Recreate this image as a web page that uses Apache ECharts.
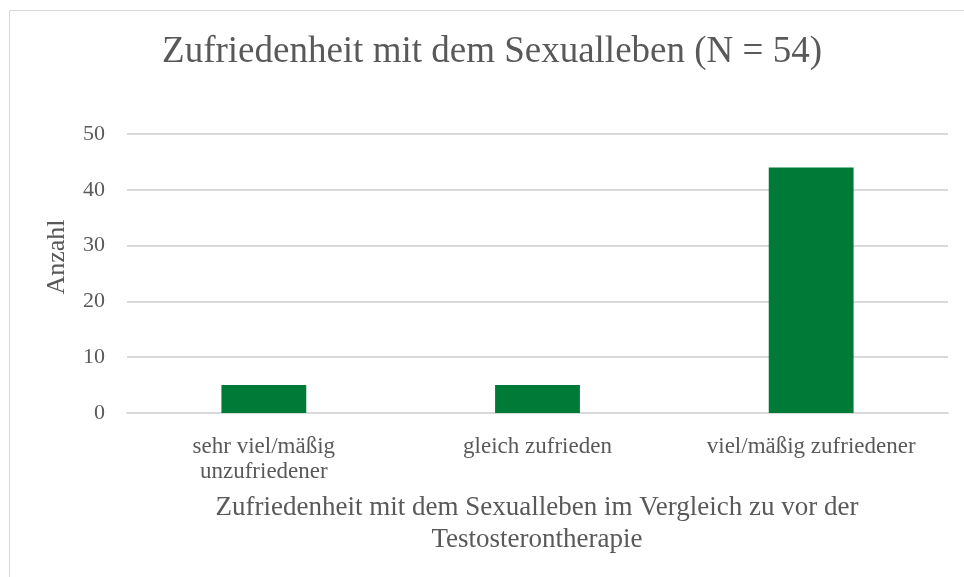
<!DOCTYPE html>
<html>
<head>
<meta charset="utf-8">
<script src="https://cdn.jsdelivr.net/npm/echarts@6/dist/echarts.min.js"></script>
<style>
  html, body { margin: 0; padding: 0; background: #fff; }
  #chart { width: 964px; height: 577px; }
</style>
</head>
<body>
<div id="chart"></div>
<script>
const categories = ['sehr viel/mäßig\nunzufriedener', 'gleich zufrieden', 'viel/mäßig zufriedener'];
const counts = [5, 5, 44];
const yTicks = { min: 0, max: 50, interval: 10 };

const font = '"Liberation Serif", "Times New Roman", serif';
const textColor = '#595959';

const chart = echarts.init(document.getElementById('chart'));

chart.setOption({
  animation: false,
  graphic: [
    // Rahmen um das Diagramm
    {
      type: 'rect',
      shape: { x: 9.5, y: 10.5, width: 1000, height: 700 },
      style: { fill: 'none', stroke: '#d9d9d9', lineWidth: 1 },
      silent: true
    },
    // Diagrammtitel
    {
      type: 'text',
      x: 492,
      y: 52,
      style: {
        text: 'Zufriedenheit mit dem Sexualleben (N = 54)',
        font: '37px ' + font,
        fill: textColor,
        align: 'center',
        verticalAlign: 'middle'
      }
    },
    // y-Achsentitel
    {
      type: 'text',
      x: 57,
      y: 257,
      rotation: Math.PI / 2,
      style: {
        text: 'Anzahl',
        font: '26px ' + font,
        fill: textColor,
        align: 'center',
        verticalAlign: 'middle'
      }
    },
    // x-Achsentitel (zweizeilig, zentriert)
    {
      type: 'text',
      x: 537,
      y: 492,
      style: {
        text: 'Zufriedenheit mit dem Sexualleben im Vergleich zu vor der\nTestosterontherapie',
        font: '27px ' + font,
        fill: textColor,
        align: 'center',
        verticalAlign: 'top',
        lineHeight: 32
      }
    }
  ],
  grid: { left: 127, right: 16, top: 134, bottom: 164 },
  xAxis: {
    type: 'category',
    data: categories,
    axisTick: { show: false },
    axisLine: { lineStyle: { color: '#d9d9d9', width: 2 } },
    axisLabel: {
      fontFamily: font, fontSize: 23, color: textColor,
      margin: 21, lineHeight: 25, interval: 0
    }
  },
  yAxis: {
    type: 'value',
    min: yTicks.min,
    max: yTicks.max,
    interval: yTicks.interval,
    axisLine: { show: false },
    axisTick: { show: false },
    axisLabel: { fontFamily: font, fontSize: 22, color: textColor, margin: 22 },
    splitLine: { lineStyle: { color: '#d9d9d9', width: 2 } }
  },
  series: [{
    type: 'bar',
    data: counts,
    barWidth: '31%',
    itemStyle: { color: '#007A37' }
  }]
});
</script>
</body>
</html>
